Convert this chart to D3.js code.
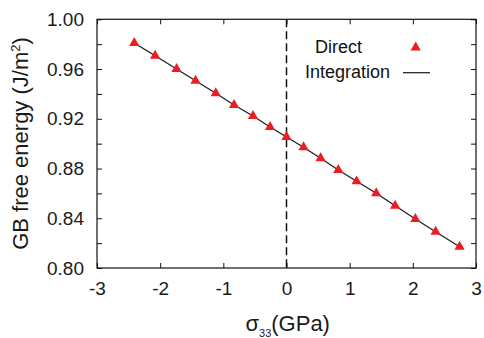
<!DOCTYPE html>
<html>
<head>
<meta charset="utf-8">
<script src="https://cdn.jsdelivr.net/npm/d3@7"></script>
<style>
  html, body { margin: 0; padding: 0; background: #fff; }
  svg { display: block; font-family: "Liberation Sans", Arial, Helvetica, sans-serif; }
</style>
</head>
<body>
<svg id="chart" width="484" height="338"></svg>
<script>
// Applied stress sigma_33 (GPa) and grain-boundary free energy (J/m^2)
const sigma = [-2.41, -2.08, -1.74, -1.44, -1.12, -0.83, -0.53, -0.26, 0.00,
               0.27, 0.54, 0.82, 1.11, 1.42, 1.72, 2.04, 2.36, 2.74];
const directEnergy = [0.9810, 0.9707, 0.9600, 0.9506, 0.9405, 0.9311, 0.9222, 0.9134, 0.9053,
                      0.8971, 0.8882, 0.8788, 0.8697, 0.8601, 0.8501, 0.8394, 0.8292, 0.8171];
const integrationEnergy = [0.9810, 0.9707, 0.9600, 0.9506, 0.9405, 0.9311, 0.9222, 0.9134, 0.9053,
                           0.8971, 0.8882, 0.8788, 0.8697, 0.8601, 0.8501, 0.8394, 0.8292, 0.8171];

const xTicks = [-3, -2, -1, 0, 1, 2, 3];
const yTicks = [0.80, 0.82, 0.84, 0.86, 0.88, 0.90, 0.92, 0.94, 0.96, 0.98, 1.00];
const yLabelled = [0.80, 0.84, 0.88, 0.92, 0.96, 1.00];
const legendLabels = ["Direct", "Integration"];

const svg = d3.select("#chart");
const plotLeft = 97, plotRight = 476, plotTop = 19.3, plotBottom = 268;

const x = d3.scaleLinear().domain([-3, 3]).range([plotLeft, plotRight]);
const y = d3.scaleLinear().domain([0.80, 1.00]).range([plotBottom, plotTop]);

const red = "#ec1c24";
const tickLen = 5;
const isLabelled = v => yLabelled.some(l => Math.abs(l - v) < 1e-9);

// Axes: ticks point inward on all four sides; plain hyphen for negatives
const axisB = svg.append("g").attr("transform", `translate(0,${plotBottom})`)
  .call(d3.axisBottom(x).tickValues(xTicks).tickSizeInner(-tickLen).tickSizeOuter(0)
        .tickPadding(13.5).tickFormat(v => String(v)));
const axisT = svg.append("g").attr("transform", `translate(0,${plotTop})`)
  .call(d3.axisTop(x).tickValues(xTicks).tickSizeInner(-tickLen).tickSizeOuter(0).tickFormat(""));
const axisL = svg.append("g").attr("transform", `translate(${plotLeft},0)`)
  .call(d3.axisLeft(y).tickValues(yTicks).tickSizeInner(-tickLen).tickSizeOuter(0)
        .tickPadding(13).tickFormat(v => isLabelled(v) ? v.toFixed(2) : ""));
const axisR = svg.append("g").attr("transform", `translate(${plotRight},0)`)
  .call(d3.axisRight(y).tickValues(yTicks).tickSizeInner(-tickLen).tickSizeOuter(0).tickFormat(""));

[axisB, axisT, axisL, axisR].forEach(g => {
  g.select(".domain").remove();
  g.selectAll(".tick line").attr("stroke", "#111").attr("stroke-width", 1);
  g.selectAll(".tick text").attr("fill", "#1a1a1a").style("font-size", "19px")
    .style("font-family", "'Liberation Sans', Arial, Helvetica, sans-serif");
});

// Plot frame
svg.append("rect")
  .attr("x", plotLeft).attr("y", plotTop)
  .attr("width", plotRight - plotLeft).attr("height", plotBottom - plotTop)
  .attr("fill", "none").attr("stroke", "#111").attr("stroke-width", 1.2);

// Zero-stress reference line
svg.append("line")
  .attr("x1", x(0)).attr("x2", x(0)).attr("y1", plotTop).attr("y2", plotBottom)
  .attr("stroke", "#111").attr("stroke-width", 1.5).attr("stroke-dasharray", "8,4");

// Integration curve
const line = d3.line().x((d, i) => x(sigma[i])).y(d => y(d));
svg.append("path")
  .datum(integrationEnergy)
  .attr("d", line)
  .attr("fill", "none").attr("stroke", "#1a1a1a").attr("stroke-width", 1.2);

// Direct calculation markers
const tri = d3.symbol().type(d3.symbolTriangle).size(46);
svg.append("g").selectAll("path")
  .data(directEnergy)
  .join("path")
  .attr("d", tri)
  .attr("transform", (d, i) => `translate(${x(sigma[i])},${y(d)})`)
  .attr("fill", red);

// Legend
const legend = svg.append("g").style("font-size", "18px").attr("fill", "#111");
legend.append("text").attr("x", 315).attr("y", 52.7).text(legendLabels[0]);
legend.append("path").attr("d", tri)
  .attr("transform", "translate(415.7,47.5)").attr("fill", red);
legend.append("text").attr("x", 305).attr("y", 78.3).text(legendLabels[1]);
legend.append("line").attr("x1", 403).attr("x2", 430).attr("y1", 72.7).attr("y2", 72.7)
  .attr("stroke", "#1a1a1a").attr("stroke-width", 1.2);

// Axis titles
const xt = svg.append("text")
  .attr("x", 287.7).attr("y", 330.5)
  .attr("text-anchor", "middle")
  .attr("fill", "#1a1a1a")
  .style("font-size", "22px");
xt.append("tspan").text("σ");
xt.append("tspan").attr("dy", 6.5).style("font-size", "11px").text("33");
xt.append("tspan").attr("dy", -6.5).text("(GPa)");

const yt = svg.append("text")
  .attr("transform", `translate(28,143.5) rotate(-90)`)
  .attr("text-anchor", "middle")
  .attr("fill", "#1a1a1a")
  .style("font-size", "22px");
yt.append("tspan").text("GB free energy (J/m");
yt.append("tspan").attr("dy", -8).style("font-size", "13px").text("2");
yt.append("tspan").attr("dy", 8).text(")");
</script>
</body>
</html>
